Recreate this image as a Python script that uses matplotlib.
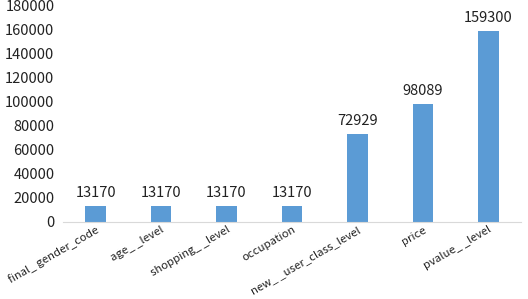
import matplotlib.pyplot as plt

plt.rcParams['font.family'] = ['Noto Sans CJK SC', 'DejaVu Sans']

features = ['final_ gender_code', 'age_ _level', 'shopping_ _level', 'occupation',
            'new_ _user_class_level', 'price', 'pvalue_ _level']
counts = [13170, 13170, 13170, 13170, 72929, 98089, 159300]

fig = plt.figure(figsize=(5.28, 2.99), dpi=100)
ax = fig.add_axes([0.119, 0.258, 0.868, 0.723])

x = range(len(features))
bars = ax.bar(x, counts, width=0.31, color='#5B9BD5')
for xi, v in zip(x, counts):
    ax.text(xi, v + 5000, str(v), ha='center', va='bottom', fontsize=10.5, color='#222222')

ax.set_xlim(-0.5, len(features) - 0.5)
ax.set_ylim(0, 180000)
ax.set_yticks(range(0, 180001, 20000))
ax.tick_params(axis='y', length=0, labelsize=10.5, labelcolor='#222222', pad=6)
ax.set_xticks(list(x))
ax.set_xticklabels(features, rotation=30, ha='right', rotation_mode='anchor',
                   fontsize=8.2, color='#222222')
ax.tick_params(axis='x', length=0, pad=2)
for s in ['top', 'right', 'left']:
    ax.spines[s].set_visible(False)
ax.spines['bottom'].set_color('#d9d9d9')

fig.savefig('out.png', dpi=100)
